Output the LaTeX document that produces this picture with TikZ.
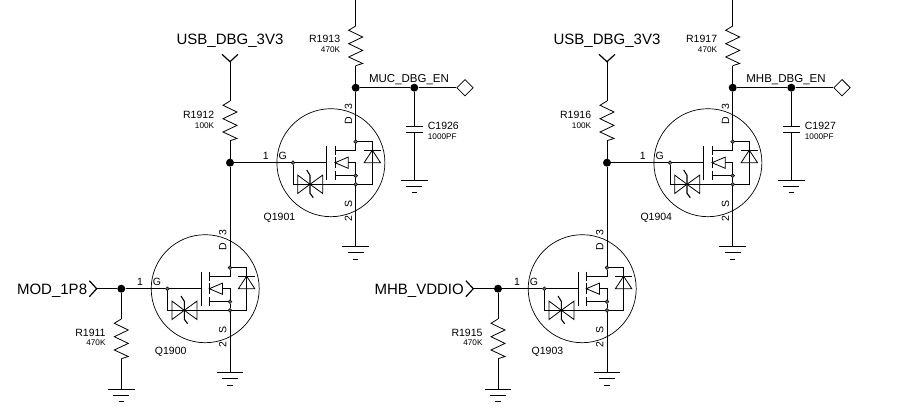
\documentclass[tikz,border=0pt]{standalone}
\usepackage{fontspec}
\setmainfont{Liberation Sans}
\usetikzlibrary{shapes.geometric}
\tikzstyle{junction}=[circle,fill=black,minimum size=8pt,inner sep=0pt]
\tikzstyle{pindot}=[circle,draw,fill=black!60,line width=0.5pt,minimum size=3.8pt,inner sep=0pt]
\tikzstyle{netbig}=[inner sep=0pt,font=\fontsize{15}{17}\selectfont]
\tikzstyle{netsmall}=[inner sep=0pt,font=\fontsize{11.5}{13}\selectfont]
\tikzstyle{refdes}=[inner sep=0pt,font=\fontsize{10.5}{12}\selectfont]
\tikzstyle{partval}=[inner sep=0pt,font=\fontsize{8.2}{10}\selectfont]
\tikzstyle{offpage}=[diamond,draw,line width=0.8pt,minimum size=16.6pt,inner sep=0pt]
\tikzset{
  wire/.style={line width=0.8pt,line join=miter},
  chevron/.style={line width=1.2pt},
  resv/.pic={
    \coordinate (-top) at (0,0);
    \coordinate (-bot) at (0,39.7);
    \draw[wire] (-top) -- (-7,4.3) -- (7,11) -- (-7,17.7) -- (7,24.4) -- (-7,31) -- (7,37.5) -- (-bot);
  },
  gndsym/.pic={
    \coordinate (-top) at (0,0);
    \draw[wire] (-13.3,0) -- (13.3,0);
    \draw[wire] (-8,6.3) -- (8,6.3);
    \draw[wire] (-2.6,12.8) -- (2.6,12.8);
  },
  capv/.pic={
    \coordinate (-top) at (0,0);
    \coordinate (-bot) at (0,6.7);
    \draw[wire] (-8.3,0) -- (8.3,0);
    \draw[wire] (-8.3,6.7) -- (8.3,6.7);
  },
  nmos/.pic={
    \draw[line width=0.7pt] (-24.8,0) circle (54);
    \node[pindot] (-gdot) at (-62.7,0) {};
    \node[pindot] (-ddot) at (0,-21) {};
    \node[pindot] (-bdot) at (0,13) {};
    \node[pindot] (-sdot) at (0,21.6) {};
    \draw[wire] (-gdot) -- (-29,0);
    \draw[wire] (-29,-16.5) -- (-29,17);
    \draw[wire] (-20.7,-17) -- (-20.7,-8);
    \draw[wire] (-20.7,-5.5) -- (-20.7,5.5);
    \draw[wire] (-20.7,8) -- (-20.7,17);
    \draw[wire] (-20.7,-12.7) -- (0,-12.7) -- (-ddot);
    \draw[wire] (-20.7,13) -- (-bdot);
    \draw[wire] (-20.7,0) -- (-7.5,-5.6) -- (-7.5,5.6) -- cycle;
    \draw[wire] (-7.5,0) -- (0,0) -- (-bdot) -- (-sdot);
    \draw[wire] (-ddot) -- (16.6,-21) -- (16.6,21.6) -- (-sdot);
    \draw[line width=1.2pt] (8.4,-12.5) -- (24.8,-12.5);
    \draw[wire] (16.6,-12.5) -- (8.4,0) -- (24.8,0) -- cycle;
    \draw[wire] (-gdot) -- (-62.7,21.6) -- (-sdot);
    \draw[wire] (-58,12.4) -- (-45.7,21.6) -- (-58,30.8) -- cycle;
    \draw[wire] (-33,12.4) -- (-45.7,21.6) -- (-33,30.8) -- cycle;
    \draw[line width=1.1pt] (-49,7.3) -- (-45.7,12.6) -- (-45.7,30.6) -- (-42.4,35);
    \node[refdes] (-pinone) at (-90,-7) {1};
    \node[refdes] (-pinG) at (-73,-6.7) {G};
    \node[refdes,rotate=90] (-pinD) at (-7.3,-42) {D};
    \node[refdes,rotate=90] (-pinthree) at (-7.3,-56) {3};
    \node[refdes,rotate=90] (-pinS) at (-7.3,41) {S};
    \node[refdes,rotate=90] (-pintwo) at (-7.3,56) {2};
  }
}

\begin{document}
\begin{tikzpicture}[x=1pt,y=-1pt]
\useasboundingbox (0,0) rectangle (898,413);
\pic (Q1900) at (230,288.7) {nmos};
\pic (Q1901) at (355.7,162.7) {nmos};
\pic (Q1903) at (607,288.7) {nmos};
\pic (Q1904) at (732.7,162.7) {nmos};
\node[refdes] (lQ1900) at (170.7,352.3) {Q1900};
\node[refdes] (lQ1901) at (279.5,218.3) {Q1901};
\node[refdes] (lQ1903) at (547.5,352.3) {Q1903};
\node[refdes] (lQ1904) at (656.3,218.3) {Q1904};

\node[junction] at (121.3,288.7) (jmod) {};
\node[junction] at (230,162.7) (jusb) {};
\node[junction] at (355.7,87.7) (jmuc) {};
\node[junction] at (414.3,87.7) (jcap) {};
\node[junction] at (498,288.7) (jmhb) {};
\node[junction] at (607,162.7) (jusbb) {};
\node[junction] at (732.7,87.7) (jdbg) {};
\node[junction] at (791.3,87.7) (jcapb) {};

\pic (R1911) at (121.3,319) {resv};
\pic (R1912) at (230,101) {resv};
\pic (R1913) at (355.7,26) {resv};
\pic (R1915) at (498,319) {resv};
\pic (R1916) at (607,101) {resv};
\pic (R1917) at (732.7,26) {resv};
\pic (C1926) at (414.3,126) {capv};
\pic (C1927) at (791.3,126) {capv};

\pic (G1) at (121.3,389) {gndsym};
\pic (G2) at (230,372.3) {gndsym};
\pic (G3) at (355.7,246.3) {gndsym};
\pic (G4) at (414.3,180) {gndsym};
\pic (G5) at (498,389) {gndsym};
\pic (G6) at (607,372.3) {gndsym};
\pic (G7) at (732.7,246.3) {gndsym};
\pic (G8) at (791.3,180) {gndsym};

\coordinate (modtip) at (96.7,288.7);
\coordinate (mhbtip) at (473.3,288.7);
\coordinate (usbtip) at (230,61.7);
\coordinate (usbtipb) at (607,61.7);
\coordinate (railtop) at (355.7,-1);
\coordinate (railtopb) at (732.7,-1);
\node[offpage] at (465,87.7) (dmuc) {};
\node[offpage] at (842,87.7) (dmhb) {};

\draw[chevron] (89.3,280.7) -- (modtip) -- (89.3,296.7);
\draw[chevron] (465.9,280.7) -- (mhbtip) -- (465.9,296.7);
\draw[chevron] (222,54.3) -- (usbtip) -- (238,54.3);
\draw[chevron] (599,54.3) -- (usbtipb) -- (615,54.3);

\draw[wire] (modtip) -- (jmod) -- (Q1900-gdot);
\draw[wire] (jmod) -- (R1911-top);
\draw[wire] (R1911-bot) -- (G1-top);
\draw[wire] (Q1900-sdot) -- (G2-top);
\draw[wire] (Q1900-ddot) -- (jusb);
\draw[wire] (usbtip) -- (R1912-top);
\draw[wire] (R1912-bot) -- (jusb);
\draw[wire] (jusb) -- (Q1901-gdot);
\draw[wire] (Q1901-sdot) -- (G3-top);
\draw[wire] (Q1901-ddot) -- (jmuc);
\draw[wire] (railtop) -- (R1913-top);
\draw[wire] (R1913-bot) -- (jmuc);
\draw[wire] (jmuc) -- (jcap) -- (dmuc);
\draw[wire] (jcap) -- (C1926-top);
\draw[wire] (C1926-bot) -- (G4-top);

\draw[wire] (mhbtip) -- (jmhb) -- (Q1903-gdot);
\draw[wire] (jmhb) -- (R1915-top);
\draw[wire] (R1915-bot) -- (G5-top);
\draw[wire] (Q1903-sdot) -- (G6-top);
\draw[wire] (Q1903-ddot) -- (jusbb);
\draw[wire] (usbtipb) -- (R1916-top);
\draw[wire] (R1916-bot) -- (jusbb);
\draw[wire] (jusbb) -- (Q1904-gdot);
\draw[wire] (Q1904-sdot) -- (G7-top);
\draw[wire] (Q1904-ddot) -- (jdbg);
\draw[wire] (railtopb) -- (R1917-top);
\draw[wire] (R1917-bot) -- (jdbg);
\draw[wire] (jdbg) -- (jcapb) -- (dmhb);
\draw[wire] (jcapb) -- (C1927-top);
\draw[wire] (C1927-bot) -- (G8-top);

\node[netbig,anchor=east] at (87.3,290.5) (lmod) {MOD\_1P8};
\node[netbig,anchor=east] at (464,290.5) (lmhb) {MHB\_VDDIO};
\node[netbig] at (230,40.7) (lusb) {USB\_DBG\_3V3};
\node[netbig] at (607,40.7) (lusbb) {USB\_DBG\_3V3};
\node[netsmall] at (409,79.5) (lmuc) {MUC\_DBG\_EN};
\node[netsmall] at (786,79.5) (ldbg) {MHB\_DBG\_EN};

\node[refdes,anchor=east] at (105.7,332.7) (lR1911) {R1911};
\node[partval,anchor=east] at (105.7,342.7) (vR1911) {470K};
\node[refdes,anchor=east] at (214.3,115) (lR1912) {R1912};
\node[partval,anchor=east] at (214.3,126) (vR1912) {100K};
\node[refdes,anchor=east] at (340.3,39) (lR1913) {R1913};
\node[partval,anchor=east] at (340.3,49.3) (vR1913) {470K};
\node[refdes,anchor=east] at (482.7,332.7) (lR1915) {R1915};
\node[partval,anchor=east] at (482.7,342.7) (vR1915) {470K};
\node[refdes,anchor=east] at (591.3,115) (lR1916) {R1916};
\node[partval,anchor=east] at (591.3,126) (vR1916) {100K};
\node[refdes,anchor=east] at (717.3,39) (lR1917) {R1917};
\node[partval,anchor=east] at (717.3,49.3) (vR1917) {470K};
\node[refdes,anchor=west] at (427.7,126) (lC1926) {C1926};
\node[partval,anchor=west] at (427.7,136.7) (vC1926) {1000PF};
\node[refdes,anchor=west] at (804.7,126) (lC1927) {C1927};
\node[partval,anchor=west] at (804.7,136.7) (vC1927) {1000PF};
\end{tikzpicture}
\end{document}
